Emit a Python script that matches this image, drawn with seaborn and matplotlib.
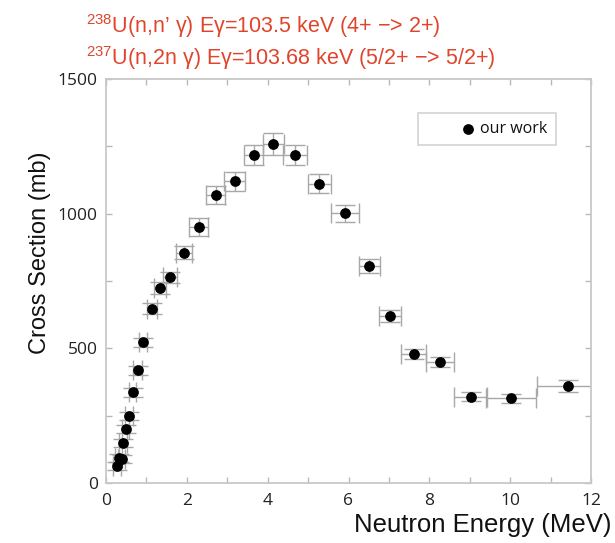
import matplotlib
matplotlib.use("Agg")
import matplotlib.pyplot as plt
import seaborn as sns
import pandas as pd
import numpy as np

# ---- data ----
energy = [0.27, 0.31, 0.39, 0.42, 0.49, 0.57, 0.66, 0.78, 0.92, 1.13, 1.34, 1.59, 1.93,
          2.29, 2.71, 3.18, 3.65, 4.14, 4.68, 5.28, 5.92, 6.51, 7.03, 7.61, 8.27, 9.02,
          10.03, 11.43]
cross_section = [62, 93, 89, 150, 201, 249, 337, 418, 523, 647, 724, 763, 855,
                 951, 1068, 1120, 1218, 1258, 1218, 1111, 1002, 805, 619, 480, 449, 321,
                 314, 361]
energy_err = [0.09, 0.09, 0.09, 0.09, 0.09, 0.09, 0.09, 0.1, 0.1, 0.12, 0.15, 0.17, 0.2,
              0.24, 0.24, 0.26, 0.24, 0.26, 0.29, 0.29, 0.35, 0.26, 0.27, 0.30, 0.35, 0.40,
              0.62, 0.77]
cs_err = [15, 15, 15, 15, 15, 15, 16, 17, 17, 20, 22, 22, 25,
          33, 33, 35, 37, 40, 37, 36, 32, 27, 22, 19, 19, 17, 18, 23]
legend_label = "our work"
x_ticks = [0, 2, 4, 6, 8, 10, 12]
y_ticks = [0, 500, 1000, 1500]

df = pd.DataFrame({"E": energy, "cs": cross_section, "dE": energy_err, "dcs": cs_err})

sns.set_theme(style="white")
plt.rcParams["font.family"] = ["Liberation Sans", "DejaVu Sans"]
plt.rcParams["mathtext.fontset"] = "custom"
plt.rcParams["mathtext.rm"] = "Liberation Sans"
plt.rcParams["mathtext.it"] = "Liberation Sans"

fig = plt.figure(figsize=(6.15, 5.43), dpi=100)
ax = fig.add_axes([106 / 615, 1 - 483 / 543, (591 - 106) / 615, (483 - 79) / 543])

ax.errorbar(df["E"], df["cs"], xerr=df["dE"], yerr=df["dcs"], fmt="none",
            ecolor="#a8a8a8", elinewidth=1.0, capsize=7.5, capthick=1.0, zorder=2)
sns.scatterplot(data=df, x="E", y="cs", ax=ax, color="black", s=60, edgecolor="black",
                linewidth=0, label=legend_label, zorder=3, clip_on=False)

ax.set_xlim(0, 12)
ax.set_ylim(0, 1500)
ax.set_xticks(x_ticks)
ax.set_yticks(y_ticks)
ax.set_xticks(np.arange(1, 12, 2), minor=True)
ax.set_yticks([250, 750, 1250], minor=True)
for side in ["left", "right", "top", "bottom"]:
    ax.spines[side].set_visible(True)
    ax.spines[side].set_color("#c8c8c8")
    ax.spines[side].set_linewidth(1.3)
ax.tick_params(which="both", direction="in", length=4, width=1, color="#b8b8b8",
               top=True, right=True, bottom=True, left=True)
ax.tick_params(which="major", labelsize=12.5, labelcolor="#222222")
ax.tick_params(axis="x", which="major", pad=7)
ax.tick_params(axis="y", which="major", pad=6)
for lab in ax.get_xticklabels() + ax.get_yticklabels():
    lab.set_fontfamily(["Open Sans", "DejaVu Sans"])

ax.set_xlabel("")
ax.set_ylabel("")
fig.text(612 / 615, 1 - 525 / 543, "Neutron Energy (MeV)", ha="right", va="center",
         fontsize=18.5, color="#111111")
fig.text(40 / 615, 1 - 253 / 543, "Cross Section (mb)", ha="center", va="center",
         rotation=90, fontsize=17, color="#111111")

red = "#e0452c"
fig.text(86 / 615, 1 - 26 / 543, r"$^{238}$U(n,n’ γ) Eγ=103.5 keV (4+ −> 2+)",
         ha="left", va="center", fontsize=15.5, color=red)
fig.text(86 / 615, 1 - 58 / 543, r"$^{237}$U(n,2n γ) Eγ=103.68 keV (5/2+ −> 5/2+)",
         ha="left", va="center", fontsize=15.5, color=red)

leg = ax.legend(loc="upper left", bbox_to_anchor=((418 - 106) / 485, 1 - (113 - 79) / 404),
                borderaxespad=0, frameon=True, fancybox=False,
                handlelength=5.3, handletextpad=-1.9, borderpad=0.5,
                prop={"family": ["Open Sans", "DejaVu Sans"], "size": 11.5})
leg.get_frame().set_edgecolor("#c8c8c8")
leg.get_frame().set_linewidth(1.2)
for t in leg.get_texts():
    t.set_color("#111111")

fig.savefig("out.png", dpi=100)
